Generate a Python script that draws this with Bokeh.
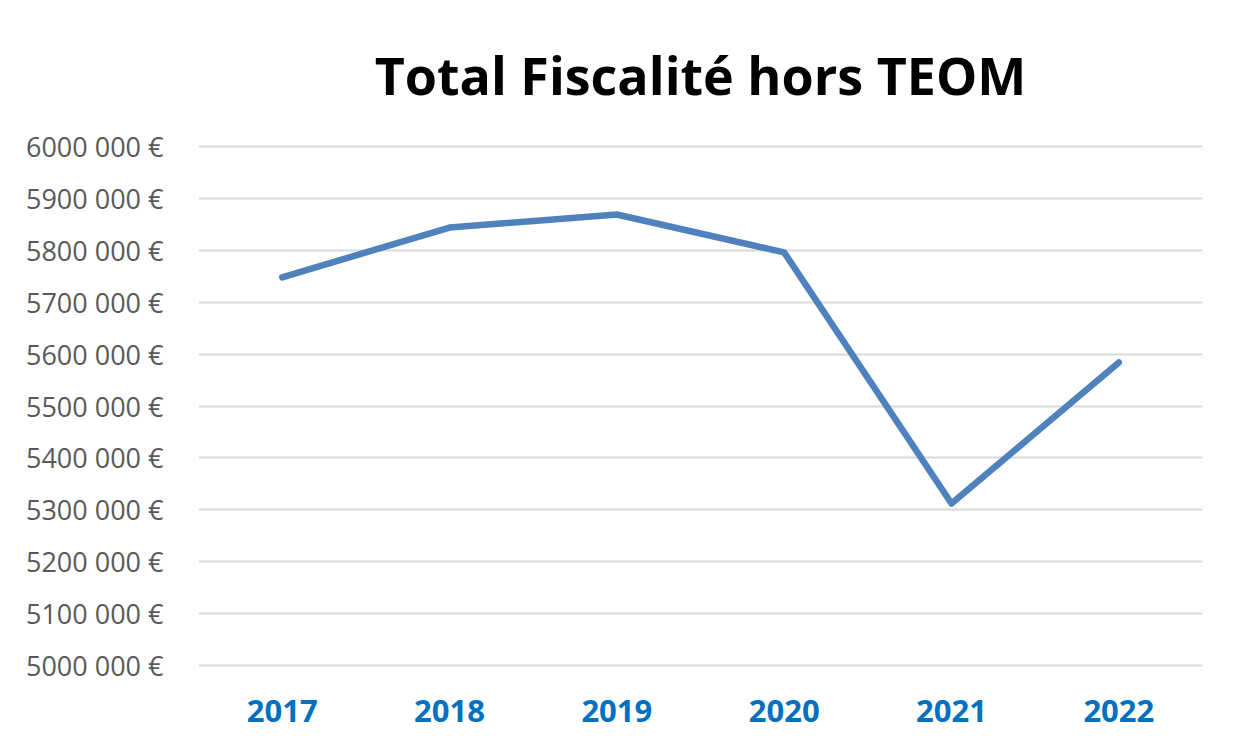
from bokeh.plotting import figure
from bokeh.models import Range1d, FactorRange, FixedTicker
from bokeh.embed import file_html
from bokeh.resources import INLINE

years = ["2017", "2018", "2019", "2020", "2021", "2022"]
values = [5748000, 5844000, 5869000, 5796000, 5312000, 5584000]
y_ticks = [5000000, 5100000, 5200000, 5300000, 5400000, 5500000,
           5600000, 5700000, 5800000, 5900000, 6000000]
y_tick_labels = ["5000 000 €", "5100 000 €", "5200 000 €", "5300 000 €",
                 "5400 000 €", "5500 000 €", "5600 000 €", "5700 000 €",
                 "5800 000 €", "5900 000 €", "6000 000 €"]
title_text = "Total Fiscalité hors TEOM"

p = figure(width=1220, height=736, x_range=FactorRange(factors=years, range_padding=0),
           y_range=Range1d(4996000, 6004000), output_backend="svg",
           toolbar_location=None, title=title_text,
           min_border_left=198, min_border_right=18, min_border_top=144,
           min_border_bottom=69)
p.outline_line_color = None
p.background_fill_color = "white"
p.border_fill_color = "white"

p.title.align = "center"
p.title.text_font = "Open Sans"
p.title.text_font_style = "bold"
p.title.text_font_size = "52px"
p.title.text_color = "black"
p.title.offset = -5
p.title.standoff = 70

p.line(x=years, y=values, line_color="#4F81BD", line_width=6.5, line_cap="round",
       line_join="round")

p.yaxis.ticker = FixedTicker(ticks=y_ticks)
p.yaxis.major_label_overrides = {t: l for t, l in zip(y_ticks, y_tick_labels)}
p.yaxis.major_label_text_font = "Open Sans"
p.yaxis.major_label_text_font_size = "27px"
p.yaxis.major_label_text_color = "#595959"
p.yaxis.major_label_standoff = 29
p.yaxis.axis_line_color = None
p.yaxis.major_tick_line_color = None
p.yaxis.minor_tick_line_color = None

p.xaxis.major_label_text_font = "Open Sans"
p.xaxis.major_label_text_font_style = "bold"
p.xaxis.major_label_text_font_size = "31px"
p.xaxis.major_label_text_color = "#0070C0"
p.xaxis.major_label_standoff = 26
p.xaxis.axis_line_color = None
p.xaxis.major_tick_line_color = None
p.xaxis.minor_tick_line_color = None

p.xgrid.grid_line_color = None
p.ygrid.grid_line_color = "#D9D9D9"
p.ygrid.grid_line_width = 2

open("out.html", "w").write(file_html(p, INLINE))
